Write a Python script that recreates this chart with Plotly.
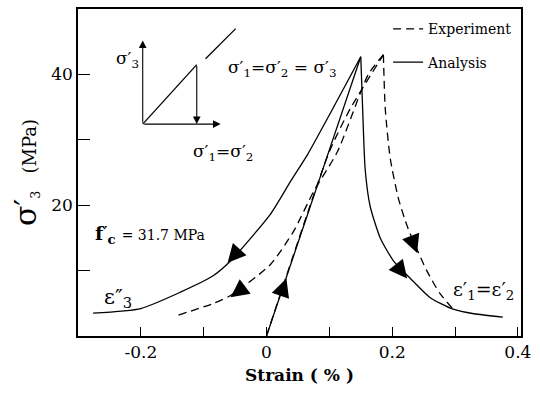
import plotly.graph_objects as go

# ---- data (strain %, stress MPa) ----
ana_load_x = [0.0, 0.083, 0.150]
ana_load_y = [0.0, 23.6, 42.7]

ana_lat_x = [-0.276, -0.20, -0.137, -0.085, -0.057, 0.006, 0.038, 0.065, 0.10, 0.150]
ana_lat_y = [3.5, 4.2, 6.7, 9.2, 11.5, 18.6, 23.6, 27.7, 33.8, 42.7]

ana_ax_x = [0.150, 0.153, 0.157, 0.165, 0.181, 0.202, 0.229, 0.260, 0.297, 0.330, 0.376]
ana_ax_y = [42.7, 34.7, 25.5, 19.8, 15.0, 11.5, 8.8, 5.9, 4.1, 3.4, 2.9]

exp_load_x = [0.0, 0.100, 0.133, 0.186]
exp_load_y = [0.0, 28.2, 34.7, 43.0]

exp_lat_x = [-0.140, -0.084, -0.057, 0.006, 0.043, 0.075, 0.113, 0.162, 0.186]
exp_lat_y = [3.2, 5.0, 6.2, 10.9, 16.0, 22.1, 28.2, 40.0, 43.0]

exp_ax_x = [0.186, 0.189, 0.197, 0.210, 0.225, 0.255, 0.276, 0.297]
exp_ax_y = [43.0, 34.7, 27.1, 21.0, 16.5, 10.0, 6.5, 4.1]

x_ticks = [-0.2, -0.1, 0.0, 0.1, 0.2, 0.3, 0.4]
x_labels = ["-0.2", "", "0", "", "0.2", "", "0.4"]
y_ticks = [10, 20, 30, 40]
y_labels = ["", "20", "", "40"]

# direction arrows on curves: tip (x, y) and tail (ax, ay)
arrow_tips = [(-0.0619, 11.2), (-0.0571, 5.91), (0.0317, 8.79), (0.2238, 8.79), (0.2397, 12.7)]
arrow_tails = [(-0.049, 12.6), (-0.042, 7.0), (0.0254, 7.06), (0.212, 10.2), (0.233, 14.4)]

SERIF = "DejaVu Serif"


def join(*segs):
    xs, ys = [], []
    for sx, sy in segs:
        xs += list(sx) + [None]
        ys += list(sy) + [None]
    return xs, ys


fig = go.Figure()
ex, ey = join((exp_load_x, exp_load_y), (exp_lat_x, exp_lat_y), (exp_ax_x, exp_ax_y))
ax_, ay_ = join((ana_load_x, ana_load_y), (ana_lat_x, ana_lat_y), (ana_ax_x, ana_ax_y))
fig.add_trace(go.Scatter(x=ex, y=ey, mode="lines", name="Experiment",
                         line=dict(color="black", width=1.3, dash="8px,5px",
                                   shape="spline", smoothing=0.6),
                         legendgroup="e"))
fig.add_trace(go.Scatter(x=ax_, y=ay_, mode="lines", name="Analysis",
                         line=dict(color="black", width=1.3, shape="spline", smoothing=0.6),
                         legendgroup="a"))

for (tx, ty), (sx, sy) in zip(arrow_tips, arrow_tails):
    fig.add_annotation(x=tx, y=ty, ax=sx, ay=sy, xref="x", yref="y", axref="x", ayref="y",
                       text="", showarrow=True, arrowhead=2, arrowsize=2.8, arrowwidth=1.3,
                       arrowcolor="black")

# ---- inset schematic ----
ins_o = (-0.197, 32.4)
fig.add_annotation(x=-0.197, y=45.2, ax=ins_o[0], ay=ins_o[1], xref="x", yref="y", axref="x",
                   ayref="y", text="", showarrow=True, arrowhead=2, arrowsize=1.4,
                   arrowwidth=1.1, arrowcolor="black")
fig.add_annotation(x=-0.073, y=32.4, ax=ins_o[0], ay=ins_o[1], xref="x", yref="y", axref="x",
                   ayref="y", text="", showarrow=True, arrowhead=2, arrowsize=1.4,
                   arrowwidth=1.1, arrowcolor="black")
fig.add_annotation(x=-0.111, y=32.4, ax=-0.111, ay=41.5, xref="x", yref="y", axref="x",
                   ayref="y", text="", showarrow=True, arrowhead=2, arrowsize=1.4,
                   arrowwidth=1.1, arrowcolor="black")
fig.add_shape(type="line", x0=ins_o[0], y0=ins_o[1], x1=-0.111, y1=41.5,
              line=dict(color="black", width=1.3))
fig.add_shape(type="line", x0=-0.097, y0=42.4, x1=-0.049, y1=47.0,
              line=dict(color="black", width=1.3))


def note(x, y, text, size, **kw):
    fig.add_annotation(x=x, y=y, text=text, showarrow=False, xref="x", yref="y",
                       font=dict(family=SERIF, size=size, color="black"), **kw)


note(-0.222, 42.3, "σ′<sub>3</sub>", 17)
note(-0.070, 28.0, "σ′<sub>1</sub>=σ′<sub>2</sub>", 17)
note(0.024, 40.9, "σ′<sub>1</sub>=σ′<sub>2</sub> = σ′<sub>3</sub>", 17)
note(-0.276, 15.5, "<b>f</b>′<sub><b>c</b></sub> <span style='font-size:14px'>= 31.7 MPa</span>",
     19, xanchor="left")
note(-0.237, 5.8, "ε″<sub>3</sub>", 21)
note(0.345, 7.0, "ε′<sub>1</sub>=ε′<sub>2</sub>", 19)

axis_common = dict(showline=True, linecolor="black", linewidth=1.5, mirror=True,
                   ticks="inside", tickcolor="black", tickwidth=1.2, showgrid=False,
                   zeroline=False, tickfont=dict(family=SERIF, size=17, color="black"))

fig.update_layout(
    width=540, height=400,
    margin=dict(l=78, r=19, t=7, b=64),
    paper_bgcolor="white", plot_bgcolor="white",
    font=dict(family=SERIF, color="black"),
    xaxis=dict(range=[-0.3, 0.405], tickvals=x_ticks, ticktext=x_labels, ticklen=9,
               title=dict(text="<b>Strain ( % )</b>", font=dict(family=SERIF, size=17, color="black"),
                          standoff=8),
               **axis_common),
    yaxis=dict(range=[0, 50], tickvals=y_ticks, ticktext=y_labels, ticklen=12,
               title=dict(text="<span style='font-size:30px'>σ′</span><sub>3</sub>   (MPa)",
                          font=dict(family=SERIF, size=18, color="black"), standoff=10),
               **axis_common),
    showlegend=True,
    legend=dict(x=0.70, y=0.987, xanchor="left", yanchor="top", bgcolor="rgba(0,0,0,0)",
                font=dict(family=SERIF, size=14, color="black"), itemwidth=30,
                tracegroupgap=12),
)

fig.write_html("out.html")
